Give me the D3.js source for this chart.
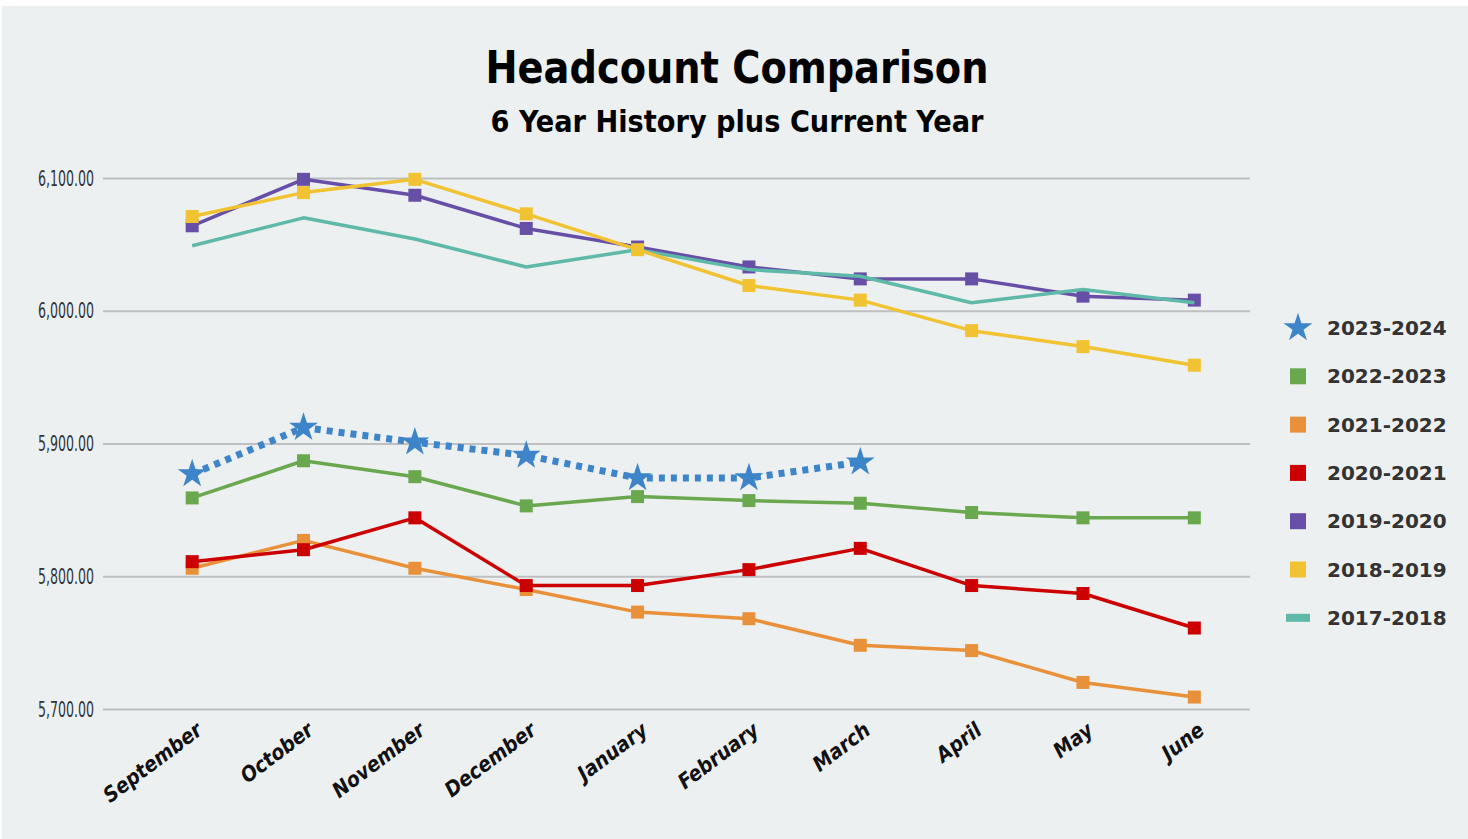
<!DOCTYPE html>
<html>
<head>
<meta charset="utf-8">
<script src="https://cdn.jsdelivr.net/npm/d3@7"></script>
<style>
  html, body { margin: 0; padding: 0; background: #ffffff; }
  svg { display: block; }
</style>
</head>
<body>
<svg width="1468" height="839"></svg>
<script>
// Month categories along the x axis
const months = ["September", "October", "November", "December", "January",
    "February", "March", "April", "May", "June"];

// Y axis ticks
const yTicks = [5700, 5800, 5900, 6000, 6100];

// Headcount per school year
const y2023_2024 = [5877, 5912, 5901, 5891, 5874, 5874, 5886];
const y2022_2023 = [5859, 5887, 5875, 5853, 5860, 5857, 5855, 5848, 5844, 5844];
const y2021_2022 = [5806, 5827, 5806, 5790, 5773, 5768, 5748, 5744, 5720, 5709];
const y2020_2021 = [5811, 5820, 5844, 5793, 5793, 5805, 5821, 5793, 5787, 5761];
const y2019_2020 = [6064, 6099, 6087, 6062, 6048, 6033, 6024, 6024, 6011, 6008];
const y2018_2019 = [6071, 6089, 6099, 6073, 6046, 6019, 6008, 5985, 5973, 5959];
const y2017_2018 = [6049, 6070, 6054, 6033, 6046, 6031, 6026, 6006, 6016, 6006];

// Series in legend order
const series = [
    { name: "2023-2024", values: y2023_2024, color: "#3d85c8", marker: "star", dotted: true },
    { name: "2022-2023", values: y2022_2023, color: "#6aa84f", marker: "square" },
    { name: "2021-2022", values: y2021_2022, color: "#e8913a", marker: "square" },
    { name: "2020-2021", values: y2020_2021, color: "#cc0000", marker: "square" },
    { name: "2019-2020", values: y2019_2020, color: "#674ea7", marker: "square" },
    { name: "2018-2019", values: y2018_2019, color: "#f1c232", marker: "square" },
    { name: "2017-2018", values: y2017_2018, color: "#5fb9a9", marker: "none" }
];

// Order the lines get painted in (back to front)
const drawOrder = ["2021-2022", "2020-2021", "2022-2023", "2019-2020", "2017-2018", "2018-2019", "2023-2024"];

const svg = d3.select("svg");

// Panel background
svg.append("rect")
    .attr("x", 2).attr("y", 6)
    .attr("width", 1466).attr("height", 833)
    .attr("fill", "#edf0f1");

// Titles
svg.append("text")
    .attr("x", 737).attr("y", 83)
    .attr("text-anchor", "middle")
    .attr("font-family", "DejaVu Sans Condensed, DejaVu Sans")
    .attr("font-weight", "bold")
    .attr("font-size", 44)
    .attr("textLength", 503)
    .attr("lengthAdjust", "spacingAndGlyphs")
    .attr("fill", "#000")
    .text("Headcount Comparison");

svg.append("text")
    .attr("x", 737).attr("y", 132)
    .attr("text-anchor", "middle")
    .attr("font-family", "DejaVu Sans Condensed, DejaVu Sans")
    .attr("font-weight", "bold")
    .attr("font-size", 30)
    .attr("textLength", 493)
    .attr("lengthAdjust", "spacingAndGlyphs")
    .attr("fill", "#000")
    .text("6 Year History plus Current Year");

// Scales
const gridLeft = 103, gridRight = 1250;
const x = d3.scalePoint().domain(months).range([136.5, 1250]).padding(0.5);
const y = d3.scaleLinear().domain([5700, 6100]).range([709, 178]);

// Y axis with gridlines
const yAxis = svg.append("g")
    .attr("transform", `translate(${gridLeft},0)`)
    .call(d3.axisLeft(y).tickValues(yTicks)
        .tickSize(-(gridRight - gridLeft))
        .tickPadding(9)
        .tickFormat(d3.format(",.2f")));
yAxis.select(".domain").remove();
yAxis.selectAll(".tick line").attr("stroke", "#bdbfc1").attr("stroke-width", 2);
yAxis.selectAll(".tick text")
    .attr("font-family", "DejaVu Sans Condensed, DejaVu Sans")
    .attr("font-size", 22)
    .attr("textLength", 56)
    .attr("lengthAdjust", "spacingAndGlyphs")
    .attr("fill", "#333");

// X axis labels, rotated
const xAxis = svg.append("g")
    .attr("transform", "translate(0,709)")
    .call(d3.axisBottom(x).tickSize(0).tickPadding(0));
xAxis.select(".domain").remove();
xAxis.selectAll(".tick text")
    .attr("font-family", "DejaVu Sans Condensed, DejaVu Sans")
    .attr("font-weight", "bold")
    .attr("font-style", "italic")
    .attr("font-size", 21)
    .attr("fill", "#111")
    .attr("text-anchor", "end")
    .attr("dy", 0)
    .attr("transform", "translate(11,24) rotate(-37)");

// Lines and markers
const line = d3.line()
    .x((d, i) => x(months[i]))
    .y(d => y(d));

const star = d3.symbol().type(d3.symbolStar).size(260);

drawOrder.forEach(name => {
    const s = series.find(d => d.name === name);
    const g = svg.append("g");

    g.append("path")
        .datum(s.values)
        .attr("fill", "none")
        .attr("stroke", s.color)
        .attr("stroke-width", s.dotted ? 7 : 3.5)
        .attr("stroke-dasharray", s.dotted ? "6,6" : null)
        .attr("stroke-linejoin", "round")
        .attr("d", line);

    if (s.marker === "square") {
        g.selectAll("rect")
            .data(s.values)
            .enter().append("rect")
            .attr("x", (d, i) => x(months[i]) - 6.5)
            .attr("y", d => y(d) - 6.5)
            .attr("width", 13)
            .attr("height", 13)
            .attr("fill", s.color);
    } else if (s.marker === "star") {
        g.selectAll(".star")
            .data(s.values)
            .enter().append("path")
            .attr("class", "star")
            .attr("transform", (d, i) => `translate(${x(months[i])},${y(d)})`)
            .attr("d", star)
            .attr("fill", s.color);
    }
});

// Legend
const legend = svg.append("g").attr("transform", "translate(1298,328)");
series.forEach((s, i) => {
    const row = legend.append("g").attr("transform", `translate(0,${i * 48.3})`);
    if (s.marker === "star") {
        row.append("path").attr("d", star).attr("fill", s.color);
    } else if (s.marker === "square") {
        row.append("rect")
            .attr("x", -8).attr("y", -8)
            .attr("width", 16).attr("height", 16)
            .attr("fill", s.color);
    } else {
        row.append("rect")
            .attr("x", -12).attr("y", -4)
            .attr("width", 24).attr("height", 8)
            .attr("fill", s.color);
    }
    row.append("text")
        .attr("x", 29)
        .attr("y", 0)
        .attr("dy", "0.35em")
        .attr("font-family", "DejaVu Sans")
        .attr("font-weight", "bold")
        .attr("font-size", 20)
        .attr("fill", "#333")
        .text(s.name);
});
</script>
</body>
</html>
